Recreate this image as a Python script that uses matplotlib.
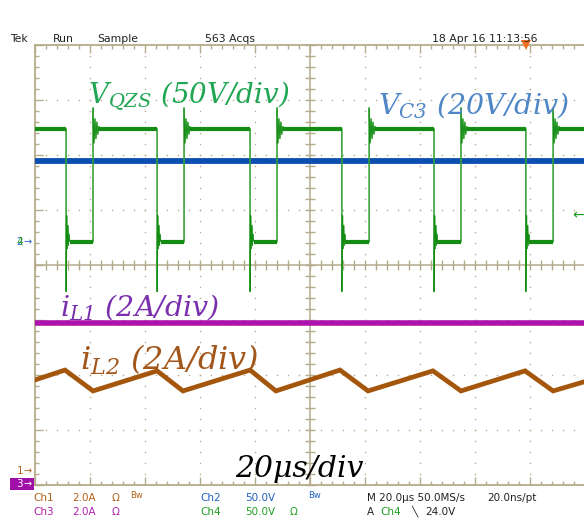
import numpy as np
import matplotlib
matplotlib.use("Agg")
import matplotlib.pyplot as plt
from matplotlib.collections import LineCollection
from matplotlib.transforms import blended_transform_factory

# ---------------- data ----------------
# time base: 20 us/div, 10 divisions
t_fall = [11.3, 44.4, 78.2, 111.6, 145.1, 178.5]     # us, falling edges of V_QZS
t_rise = [21.1, 54.2, 88.0, 121.5, 154.9, 188.4]     # us, rising edges of V_QZS
v_qzs_high = 103.0      # V
v_qzs_low = 0.0         # V
fall_ring = [-45.0, 24.0, -6.0, 15.0, -3.0, 7.0, 1.0]          # V after falling edge
rise_ring = [122.0, 90.0, 112.0, 94.0, 109.0, 98.0, 105.0]      # V after rising edge
ring_step = 0.35        # us between ringing samples
v_c3 = 73.6             # V
i_l1 = 5.85             # A
il2_t = [0.0, 10.9, 21.1, 44.4, 53.8, 78.2, 87.6, 110.9, 121.1, 144.7, 154.9, 178.2, 188.4, 199.6]
il2_v = [3.31, 3.67, 2.91, 3.64, 2.91, 3.67, 2.91, 3.67, 2.91, 3.64, 2.91, 3.64, 2.91, 3.24]
t_end = 199.6
trigger_level = 24.0    # V on Ch4
trigger_time = 178.5    # us

# channel settings: (scale per div, ground position in div from centre)
ch_scale = {"ch1": 2.0, "ch2": 50.0, "ch3": 2.0, "ch4": 50.0}
ch_ground = {"ch1": -3.745, "ch2": 0.418, "ch3": -3.98, "ch4": 0.418}

header = [("Tek", 10), ("Run", 53), ("Sample", 97), ("563 Acqs", 205), ("18 Apr 16 11:13:56", 432)]

def to_div(ch, val):
    return ch_ground[ch] + np.asarray(val, dtype=float) / ch_scale[ch]

# ---------------- colours ----------------
GRID = "#b5ab8c"
GREEN_TR = "#148c14"
GREEN_EDGE = "#5cb85c"
BLUE_TR = "#0d4fb0"
MAG_TR = "#ad12ad"
BROWN_TR = "#a4560c"

W, H = 584, 518
fig = plt.figure(figsize=(W / 100, H / 100), dpi=100)
fig.patch.set_facecolor("white")
ax = fig.add_axes([35 / W, 33 / H, 549 / W, 440 / H])
ax.set_xlim(0, 549 / 2.75)
ax.set_ylim(-4, 4)
ax.axis("off")

px_x = 200 / 550.0   # us per pixel
px_y = 8 / 440.0     # div per pixel

# ---------------- graticule ----------------
segs = []
minor_x = np.arange(0, 200.01, 4.0)
minor_y = np.arange(-4, 4.001, 0.2)
for x in minor_x:
    L = 8 if abs(x / 20 - round(x / 20)) < 1e-6 else 4
    segs.append([(x, 4), (x, 4 - L * px_y)])
    segs.append([(x, -4), (x, -4 + L * px_y)])
    segs.append([(x, -5 * px_y), (x, 5 * px_y)])
for y in minor_y:
    L = 8 if abs(y - round(y)) < 1e-6 else 4
    segs.append([(0, y), (L * px_x, y)])
    segs.append([(100 - 5 * px_x, y), (100 + 5 * px_x, y)])
ax.add_collection(LineCollection(segs, colors=GRID, linewidths=1.0, clip_on=False))
ax.plot([0, 0], [-4, 4], color=GRID, lw=1.3, clip_on=False)
ax.plot([0, 200], [4, 4], color=GRID, lw=1.3, clip_on=False)
ax.plot([0, 200], [-4, -4], color=GRID, lw=1.3, clip_on=False)
ax.plot([100, 100], [-4, 4], color=GRID, lw=1.1)
ax.plot([0, 200], [0, 0], color=GRID, lw=1.1)
# dotted major grid
dx, dy = [], []
for xm in range(20, 200, 20):
    if xm == 100:
        continue
    dx += [xm] * len(minor_y)
    dy += list(minor_y)
for ym in range(-3, 4):
    if ym == 0:
        continue
    dx += list(minor_x)
    dy += [ym] * len(minor_x)
ax.plot(dx, dy, ls="none", marker="s", ms=1.0, color=GRID, mew=0)

# ---------------- traces ----------------
# Ch2 (blue) V_C3
ax.plot([0, t_end], to_div("ch2", [v_c3, v_c3]), color=BLUE_TR, lw=4.2, solid_capstyle="butt")

# Ch4 (green) V_QZS
tt, vv = [0.0], [v_qzs_high]
flat_hi, flat_lo = [], []
seg_start = 0.0
for tf, tr in zip(t_fall, t_rise):
    tt.append(tf); vv.append(v_qzs_high)
    flat_hi.append((seg_start, tf))
    for k, r in enumerate(fall_ring):
        tt.append(tf + k * ring_step * 0.6); vv.append(r)
    lo_start = tf + (len(fall_ring) - 1) * ring_step * 0.6
    tt.append(tr); vv.append(v_qzs_low)
    flat_lo.append((lo_start, tr))
    for k, r in enumerate(rise_ring):
        tt.append(tr + k * ring_step); vv.append(r)
    seg_start = tr + (len(rise_ring) - 1) * ring_step
    tt.append(seg_start + 0.3); vv.append(v_qzs_high)
tt.append(t_end); vv.append(v_qzs_high)
flat_hi.append((seg_start, t_end))
ax.plot(tt, to_div("ch4", vv), color=GREEN_EDGE, lw=1.0)
ax.plot(tt, to_div("ch4", vv), color=GREEN_TR, lw=0.6)
for a, b in flat_hi:
    ax.plot([a, b], to_div("ch4", [v_qzs_high, v_qzs_high]), color=GREEN_TR, lw=3.0, solid_capstyle="butt")
for a, b in flat_lo:
    ax.plot([a, b], to_div("ch4", [v_qzs_low, v_qzs_low]), color=GREEN_TR, lw=3.0, solid_capstyle="butt")

# Ch3 (magenta) i_L1
ax.plot([0, t_end], to_div("ch3", [i_l1, i_l1]), color=MAG_TR, lw=4.0, solid_capstyle="butt")

# Ch1 (brown) i_L2
ax.plot(il2_t, to_div("ch1", il2_v), color=BROWN_TR, lw=3.4, solid_joinstyle="miter")

# trigger markers
ax.plot([trigger_time], [4.0], marker="v", color="#f07020", ms=7, mew=0, clip_on=False)
blend = blended_transform_factory(fig.transFigure, ax.transData)
ax.text(584 / W, to_div("ch4", trigger_level), "\u2190", transform=blend, color="#1a9a1a",
        fontsize=10, ha="right", va="center", clip_on=False)

# ground markers
ax.text(23 / W, ch_ground["ch2"], "2", transform=blend, color="#2060c0", fontsize=7.5,
        ha="right", va="center")
ax.text(23 / W, ch_ground["ch4"], "4", transform=blend, color="#2a9a2a", fontsize=7.5,
        ha="right", va="center")
ax.text(24 / W, ch_ground["ch2"], "\u2192", transform=blend, color="#2060c0", fontsize=7,
        ha="left", va="center")
ax.text(23 / W, ch_ground["ch1"], "1", transform=blend, color="#b0601a", fontsize=7.5,
        ha="right", va="center")
ax.text(24 / W, ch_ground["ch1"], "\u2192", transform=blend, color="#b0601a", fontsize=7,
        ha="left", va="center")
ax.add_patch(plt.Rectangle((10 / W, ch_ground["ch3"] - 6 * px_y), 24 / W, 12 * px_y,
                           transform=blend, facecolor="#a010a8", edgecolor="none", clip_on=False))
ax.text(23 / W, ch_ground["ch3"], "3", transform=blend, color="white", fontsize=7.5,
        ha="right", va="center")
ax.text(24 / W, ch_ground["ch3"], "\u2192", transform=blend, color="white", fontsize=7,
        ha="left", va="center")

# ---------------- text ----------------
def fx(x):
    return x / W

def fy(y):
    return 1 - y / H

plt.rcParams["mathtext.fontset"] = "custom"
plt.rcParams["mathtext.it"] = "DejaVu Serif:italic"
plt.rcParams["mathtext.rm"] = "DejaVu Serif:italic"
plt.rcParams["mathtext.default"] = "it"

for s, x in header:
    fig.text(fx(x), fy(42), s, fontsize=7.8, color="#222222", family="DejaVu Sans", va="baseline")

fig.text(fx(88), fy(104), r"$V_{QZS}\ (50V/div)$", color="#1ea653", fontsize=20, va="baseline")
fig.text(fx(378), fy(113), r"$V_{C3}\ (20V/div)$", color="#4f86c6", fontsize=20.5, va="baseline")
fig.text(fx(60), fy(315), r"$i_{L1}\ (2A/div)$", color="#7a2fae", fontsize=20.5, va="baseline")
fig.text(fx(80), fy(370), r"$i_{L2}\ (2A/div)$", color="#a3561a", fontsize=23, va="baseline")
fig.text(fx(235), fy(477), "20\u03bcs/div", color="black", fontsize=21.5, family="DejaVu Serif",
         style="italic", va="baseline")

C1, C2, C3, C4 = "#b0601a", "#2060c0", "#b020b0", "#20a020"
bottom1 = [("Ch1", 33, C1), ("2.0A", 72, C1), ("\u03a9", 112, C1),
           ("Ch2", 200, C2), ("50.0V", 245, C2),
           ("M 20.0\u03bcs 50.0MS/s", 367, "#222222"), ("20.0ns/pt", 487, "#222222")]
bottom2 = [("Ch3", 33, C3), ("2.0A", 72, C3), ("\u03a9", 112, C3),
           ("Ch4", 200, C4), ("50.0V", 245, C4), ("\u03a9", 290, C4),
           ("A", 367, "#222222"), ("Ch4", 380, C4), ("\u2572", 411, "#222222"), ("24.0V", 425, "#222222")]
for s, x, c in bottom1:
    fig.text(fx(x), fy(501), s, fontsize=7.5, color=c, family="DejaVu Sans", va="baseline")
for s, x, c in bottom2:
    fig.text(fx(x), fy(515), s, fontsize=7.5, color=c, family="DejaVu Sans", va="baseline")
fig.text(fx(130), fy(498), "Bw", fontsize=6, color=C1, family="DejaVu Sans", va="baseline")
fig.text(fx(308), fy(498), "Bw", fontsize=6, color=C2, family="DejaVu Sans", va="baseline")

fig.savefig("out.png", dpi=100, facecolor="white")
